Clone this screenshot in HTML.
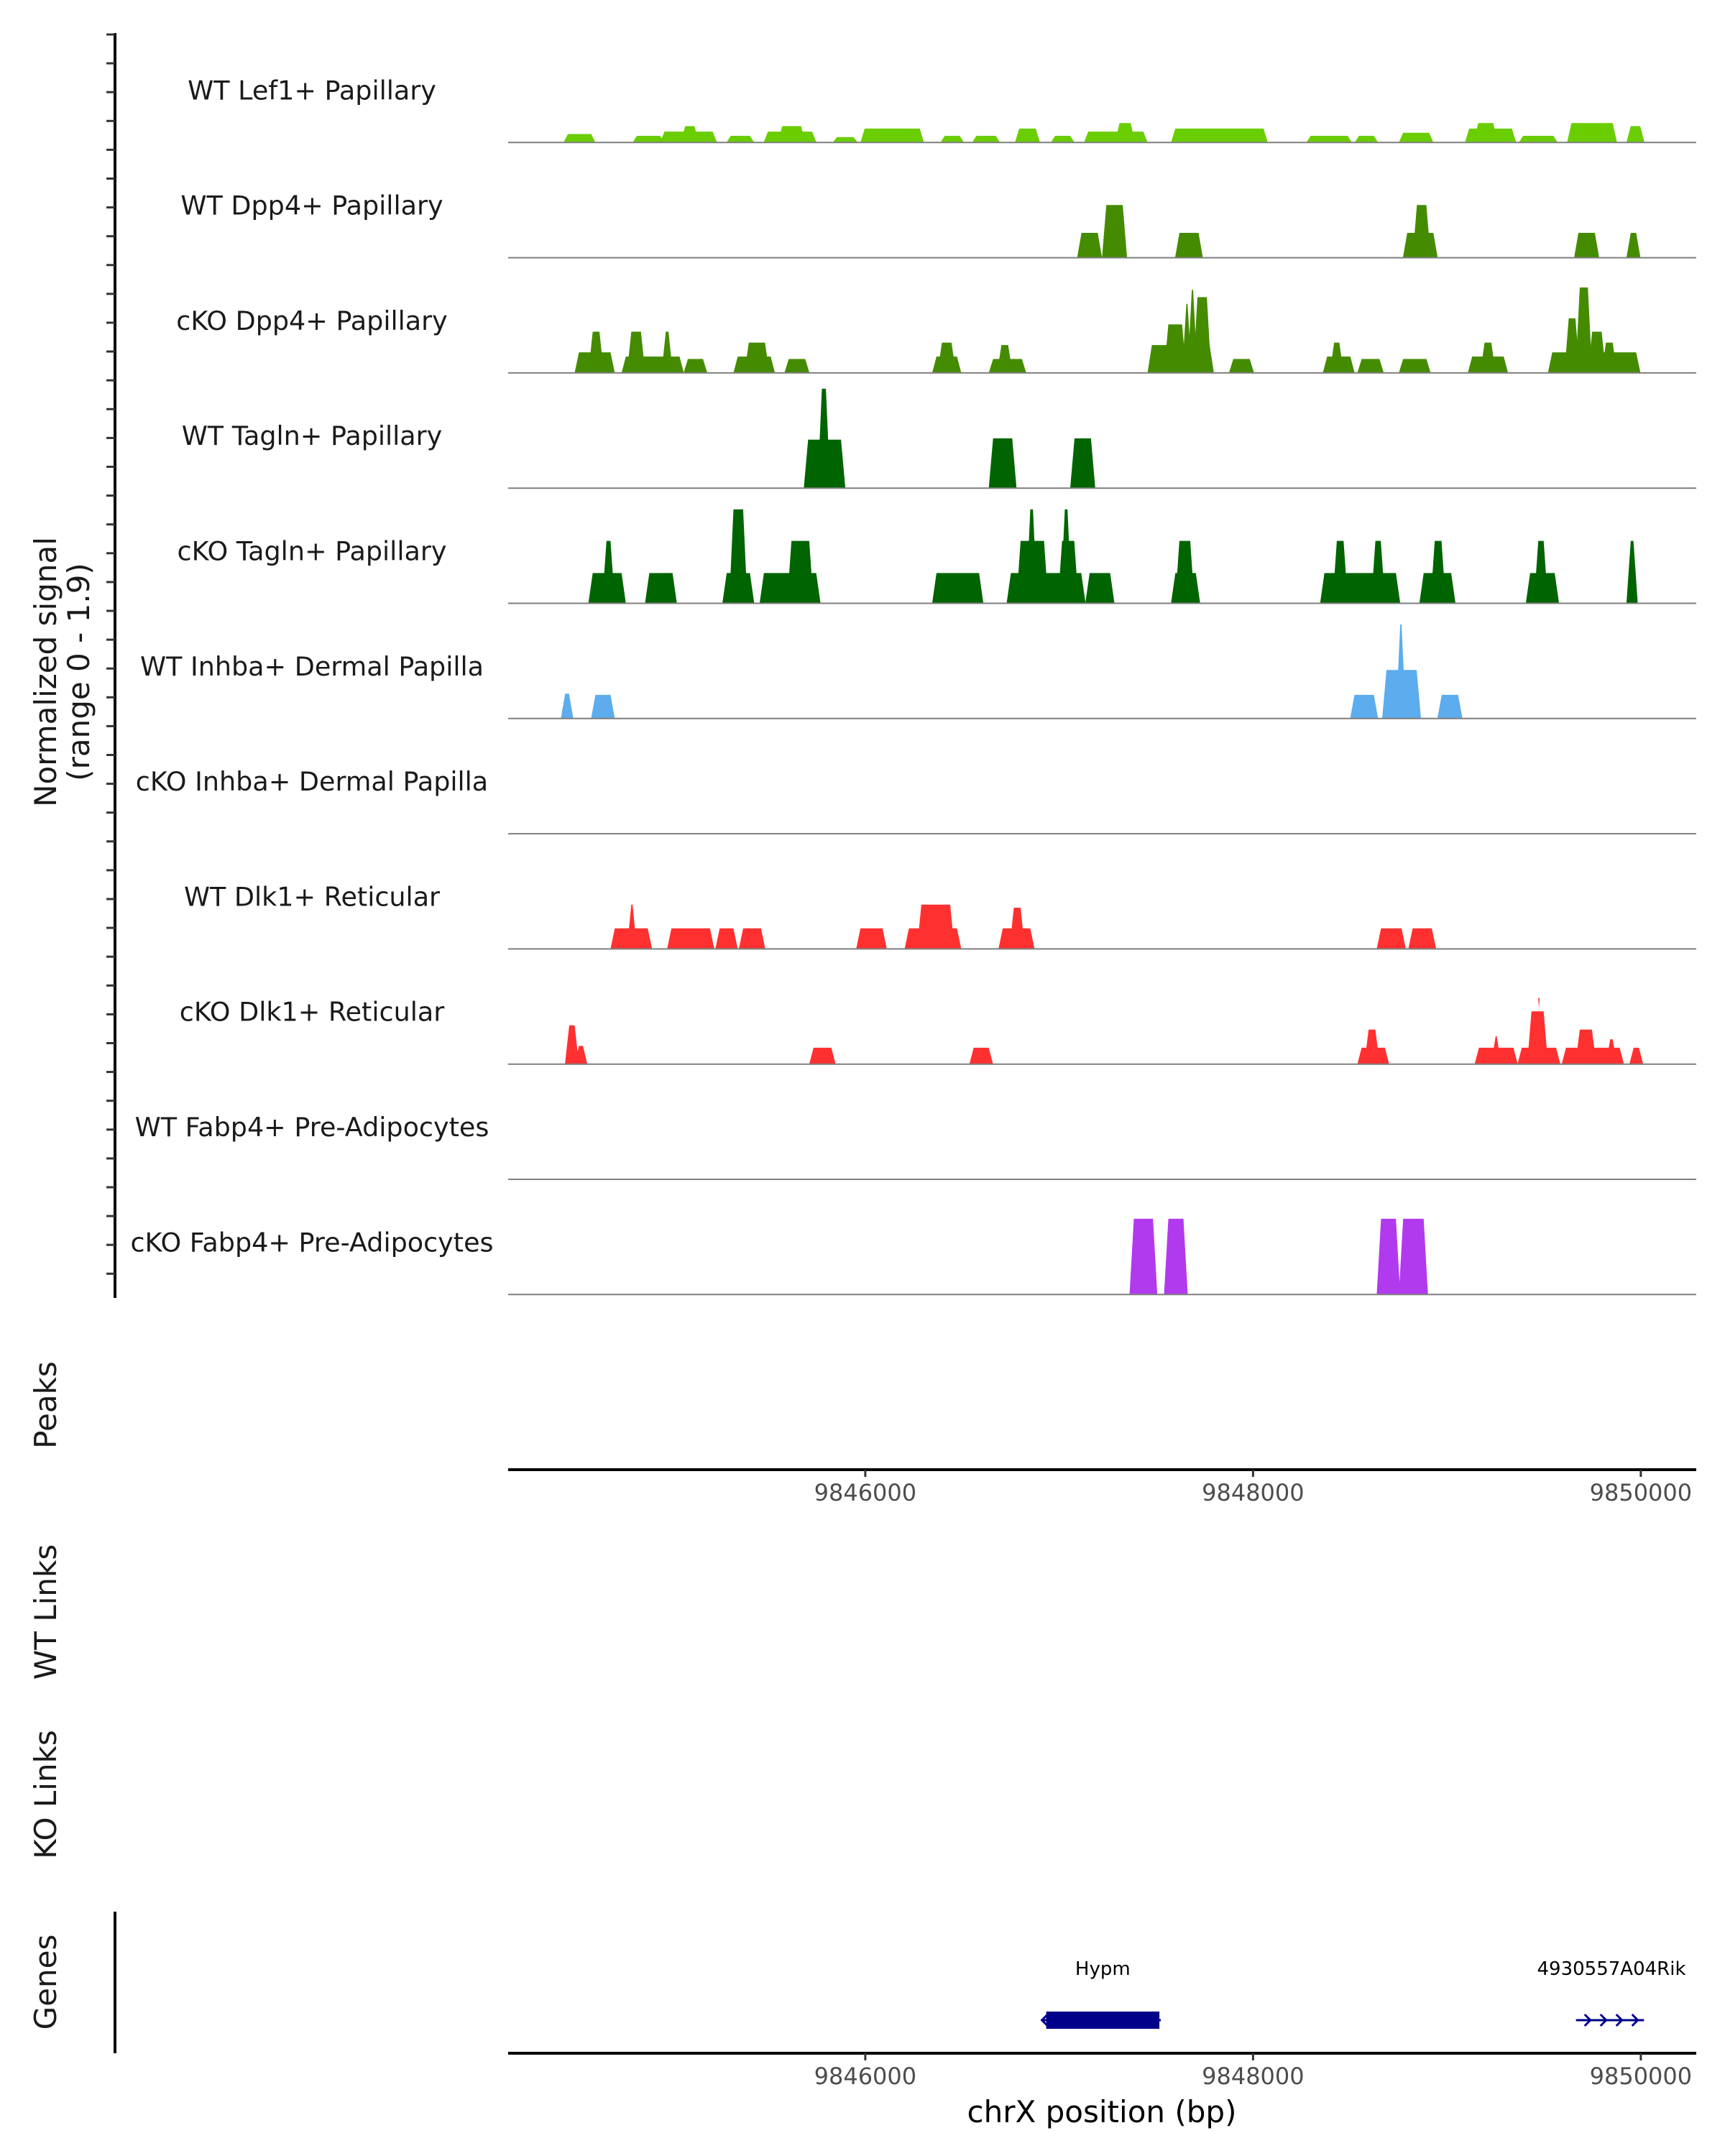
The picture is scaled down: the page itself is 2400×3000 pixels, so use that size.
<!DOCTYPE html>
<html><head><meta charset="utf-8">
<style>
html,body{margin:0;padding:0;background:#fff;}
svg{display:block;font-family:"DejaVu Sans","Liberation Sans",sans-serif;}
</style></head>
<body>
<svg id="chart" width="2400" height="3000" viewBox="0 0 2400 3000" xmlns="http://www.w3.org/2000/svg">
<rect width="2400" height="3000" fill="#fff"/>
<g id="tracks"></g>
<g id="axes"></g>
<text transform="translate(78,935) rotate(-90)" text-anchor="middle" font-size="42" fill="#1a1a1a">Normalized signal</text>
<text transform="translate(124,935) rotate(-90)" text-anchor="middle" font-size="42" fill="#1a1a1a">(range 0 - 1.9)</text>
<text transform="translate(78,1955) rotate(-90)" text-anchor="middle" font-size="42" fill="#1a1a1a">Peaks</text>
<text transform="translate(78,2243) rotate(-90)" text-anchor="middle" font-size="42" fill="#1a1a1a">WT Links</text>
<text transform="translate(78,2497) rotate(-90)" text-anchor="middle" font-size="42" fill="#1a1a1a">KO Links</text>
<text transform="translate(78,2758) rotate(-90)" text-anchor="middle" font-size="42" fill="#1a1a1a">Genes</text>
<text x="1533" y="2953" text-anchor="middle" font-size="42" fill="#000">chrX position (bp)</text>
</svg>
<script>
const trackNames = ["WT Lef1+ Papillary","WT Dpp4+ Papillary","cKO Dpp4+ Papillary","WT Tagln+ Papillary","cKO Tagln+ Papillary","WT Inhba+ Dermal Papilla","cKO Inhba+ Dermal Papilla","WT Dlk1+ Reticular","cKO Dlk1+ Reticular","WT Fabp4+ Pre-Adipocytes","cKO Fabp4+ Pre-Adipocytes"];
const trackColors = ["#6ACD00","#458B00","#458B00","#006400","#006400","#5CACEE","#5CACEE","#FF3030","#FF3030","#B23AEE","#B23AEE"];
const xTicks = [9846000,9848000,9850000];
const xTickLabels = ["9846000","9848000","9850000"];
// segments: [start bp, end bp, normalized signal]
const lef1WT = [[9844455,9844597,0.14],[9844811,9844953,0.11],[9844953,9845224,0.18],[9845060,9845130,0.27],[9845295,9845416,0.11],[9845487,9845737,0.18],[9845560,9845680,0.27],[9845843,9845950,0.09],[9845986,9846292,0.23],[9846399,9846498,0.11],[9846562,9846684,0.11],[9846783,9846890,0.23],[9846968,9847068,0.11],[9847139,9847445,0.18],[9847300,9847380,0.32],[9847588,9848065,0.23],[9848286,9848499,0.11],[9848535,9848634,0.11],[9848763,9848919,0.16],[9849104,9849346,0.23],[9849150,9849250,0.32],[9849382,9849560,0.11],[9849631,9849866,0.32],[9849937,9850008,0.27]];
const dpp4WT = [[9847104,9847210,0.41],[9847232,9847339,0.87],[9847609,9847730,0.41],[9848784,9848941,0.41],[9848834,9848905,0.87],[9849667,9849774,0.41],[9849937,9849987,0.41]];
const dpp4KO = [[9844512,9844697,0.34],[9844583,9844640,0.68],[9844754,9845053,0.27],[9844782,9844854,0.68],[9844960,9844996,0.68],[9845074,9845174,0.23],[9845331,9845523,0.27],[9845388,9845494,0.5],[9845594,9845701,0.23],[9846356,9846484,0.27],[9846384,9846456,0.5],[9846648,9846819,0.23],[9846691,9846748,0.46],[9847467,9847787,0.46],[9847552,9847645,0.8],[9847645,9847673,1.14],[9847673,9847702,1.37],[9847702,9847773,1.25],[9847887,9847994,0.23],[9848371,9848513,0.27],[9848407,9848456,0.5],[9848549,9848663,0.23],[9848763,9848905,0.23],[9849119,9849304,0.27],[9849183,9849240,0.5],[9849532,9849987,0.34],[9849617,9849674,0.9],[9849674,9849738,1.41],[9849738,9849809,0.68],[9849809,9849866,0.5]];
const taglnWT = [[9845694,9845886,0.8],[9845765,9845808,1.64],[9846648,9846769,0.82],[9847068,9847175,0.82]];
const taglnKO = [[9844583,9844754,0.5],[9844654,9844697,1.03],[9844875,9845017,0.5],[9845274,9845416,0.5],[9845309,9845381,1.55],[9845466,9845758,0.5],[9845608,9845722,1.03],[9846356,9846598,0.5],[9846740,9847125,0.5],[9846790,9846933,1.03],[9846840,9846876,1.55],[9847004,9847089,1.03],[9847018,9847054,1.55],[9847146,9847274,0.5],[9847588,9847716,0.5],[9847609,9847687,1.03],[9848357,9848748,0.5],[9848421,9848478,1.03],[9848620,9848670,1.03],[9848869,9849033,0.5],[9848926,9848983,1.03],[9849418,9849567,0.5],[9849460,9849510,1.03],[9849937,9849973,1.03]];
const inhbaWT = [[9844441,9844483,0.41],[9844597,9844697,0.39],[9848512,9848634,0.39],[9848677,9848855,0.8],[9848748,9848777,1.55],[9848962,9849069,0.39]];
const inhbaKO = [];
const dlk1WT = [[9844697,9844889,0.34],[9844782,9844811,0.73],[9844989,9845210,0.34],[9845238,9845331,0.34],[9845359,9845473,0.34],[9845964,9846100,0.34],[9846214,9846484,0.34],[9846278,9846449,0.73],[9846698,9846862,0.34],[9846755,9846812,0.68],[9848649,9848777,0.34],[9848812,9848933,0.34]];
const dlk1KO = [[9844462,9844512,0.64],[9844512,9844555,0.3],[9845722,9845836,0.27],[9846548,9846648,0.27],[9848549,9848691,0.27],[9848585,9848642,0.57],[9849154,9849354,0.27],[9849240,9849268,0.46],[9849375,9849574,0.27],[9849425,9849510,0.87],[9849467,9849482,1.09],[9849603,9849902,0.27],[9849674,9849759,0.57],[9849831,9849866,0.41],[9849952,9850001,0.27]];
const fabp4WT = [];
const fabp4KO = [[9847374,9847495,1.25],[9847552,9847652,1.25],[9848649,9848748,1.25],[9848763,9848891,1.25]];
const trackData = [lef1WT,dpp4WT,dpp4KO,taglnWT,taglnKO,inhbaWT,inhbaKO,dlk1WT,dlk1KO,fabp4WT,fabp4KO];
const genes = [{name:"Hypm",start:9846933,end:9847517,strand:-1},{name:"4930557A04Rik",start:9849688,end:9850009,strand:1}];

const NS="http://www.w3.org/2000/svg";
const X0=707, X1=2360, BP0=9844158, PXBP=539.5/2000;
const xs = bp => X0+(bp-BP0)*PXBP;
const TRK_TOP=38, TRK_H=160.3, YMAX=1.9;
const baseY = i => TRK_TOP+(i+1)*TRK_H;
const ys = (i,v) => baseY(i)-v/YMAX*TRK_H;
function mk(tag,attrs,parent){const e=document.createElementNS(NS,tag);for(const k in attrs)e.setAttribute(k,attrs[k]);parent.appendChild(e);return e;}
const tracks=document.getElementById('tracks');
const axes=document.getElementById('axes');

trackNames.forEach((nm,i)=>{
  const g=mk('g',{},tracks);
  
  
  trackData[i].forEach(s=>{
    const x1=xs(s[0]),x2=xs(s[1]),y=ys(i,s[2]),b=baseY(i);
    const p=mk('polygon',{points:`${x1-3},${b} ${x1+3},${y} ${x2-3},${y} ${x2+3},${b}`,fill:trackColors[i]},g);
    
    
  });
  const l=mk('line',{x1:X0,x2:X1,y1:baseY(i),y2:baseY(i),stroke:'#7f7f7f','stroke-width':2},g);
  
  
  const t=mk('text',{x:434,y:baseY(i)-60,'text-anchor':'middle','font-size':36.5,fill:'#1a1a1a'},g);
  t.textContent=nm;
  
  
});

let yl=mk('line',{x1:160,x2:160,y1:46,y2:1806,stroke:'#000','stroke-width':4},axes);


for(let y=48;y<=1806;y+=40.1){
  const t=mk('line',{x1:148,x2:160,y1:y,y2:y,stroke:'#333','stroke-width':3},axes);
  
  
}
let gl=mk('line',{x1:160,x2:160,y1:2660,y2:2857,stroke:'#000','stroke-width':4},axes);



[2045,2857].forEach((ay,k)=>{
  const a=mk('line',{x1:X0,x2:X1,y1:ay,y2:ay,stroke:'#000','stroke-width':4},axes);
  
  
  xTicks.forEach((v,j)=>{
    const tk=mk('line',{x1:xs(v),x2:xs(v),y1:ay,y2:ay+10,stroke:'#333','stroke-width':3},axes);
    
    
    const tl=mk('text',{x:xs(v),y:ay+43,'text-anchor':'middle','font-size':32,fill:'#4d4d4d'},axes);
    tl.textContent=xTickLabels[j];
    
    
  });
});

genes.forEach(gn=>{
  const g=mk('g',{},axes);
  
  
  const x1=xs(gn.start),x2=xs(gn.end),yc=2811;
  mk('line',{x1:x1-6,x2:x2+2,y1:yc,y2:yc,stroke:'#00008B','stroke-width':3},g);
  if(gn.strand<0){
    mk('rect',{x:x1,y:yc-12,width:x2-x1,height:24,fill:'#00008B'},g);
    mk('polyline',{points:`${x1+2},${yc-8} ${x1-6},${yc} ${x1+2},${yc+8}`,fill:'none',stroke:'#00008B','stroke-width':3},g);
  } else {
    for(let k=0;k<4;k++){const ax=x1+14+k*(x2-x1-14)/3.3;
      mk('polyline',{points:`${ax-8},${yc-8} ${ax},${yc} ${ax-8},${yc+8}`,fill:'none',stroke:'#00008B','stroke-width':3},g);}
  }
  const t=mk('text',{x:(x1+x2)/2,y:2748,'text-anchor':'middle','font-size':26,fill:'#000'},g);
  t.textContent=gn.name;
  
  
});
</script>
</body></html>
